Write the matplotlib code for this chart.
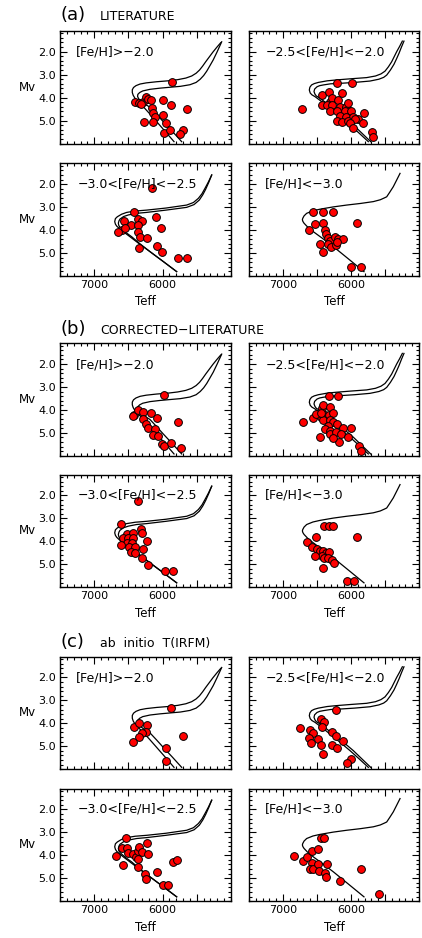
import matplotlib
matplotlib.use("Agg")
import matplotlib.pyplot as plt
from matplotlib.ticker import MultipleLocator, FixedLocator, FixedFormatter

plt.rcParams['font.family'] = ['DejaVu Sans']

# ---- isochrones (Teff, Mv), same in every group ----
iso_hi_a_teff = [5833, 5960, 6087, 6190, 6282, 6350, 6404, 6430, 6443, 6443, 6425, 6389, 6330, 6240, 6087, 5920, 5780,
                 5660, 5575, 5510, 5460, 5415, 5370, 5320, 5265, 5205, 5150]
iso_hi_a_mv = [5.92, 5.48, 5.05, 4.70, 4.40, 4.20, 4.03, 3.90, 3.78, 3.66, 3.56, 3.48, 3.41, 3.36, 3.31, 3.27, 3.22,
               3.15, 3.06, 2.94, 2.80, 2.63, 2.44, 2.24, 2.02, 1.80, 1.61]
iso_hi_b_teff = [5721, 5855, 5990, 6090, 6184, 6260, 6306, 6350, 6366, 6362, 6335, 6290, 6184, 6040, 5892, 5740, 5600,
                 5510, 5450, 5400, 5355, 5310, 5260, 5205, 5136]
iso_hi_b_mv = [5.92, 5.48, 5.05, 4.72, 4.42, 4.28, 4.18, 4.05, 3.95, 3.86, 3.78, 3.71, 3.64, 3.59, 3.55, 3.51, 3.44,
               3.34, 3.20, 3.04, 2.85, 2.62, 2.36, 2.02, 1.57]

iso_m25_a_teff = [5745, 5880, 6015, 6160, 6309, 6420, 6529, 6575, 6600, 6613, 6605, 6580, 6540, 6481, 6350, 6211, 6000,
                  5770, 5640, 5560, 5500, 5450, 5402, 5365, 5328, 5285, 5245]
iso_m25_a_mv = [5.92, 5.55, 5.19, 4.83, 4.47, 4.20, 3.96, 3.88, 3.80, 3.67, 3.55, 3.45, 3.39, 3.34, 3.27, 3.23, 3.18,
                3.13, 3.06, 2.97, 2.85, 2.66, 2.44, 2.22, 2.00, 1.77, 1.54]
iso_m25_b_teff = [5710, 5840, 5966, 6110, 6260, 6370, 6471, 6510, 6530, 6544, 6535, 6500, 6460, 6407, 6300, 6162, 5950,
                  5721, 5590, 5520, 5475, 5420, 5368, 5330, 5294, 5258, 5221]
iso_m25_b_mv = [5.92, 5.55, 5.19, 4.83, 4.47, 4.22, 4.00, 3.93, 3.85, 3.74, 3.63, 3.53, 3.48, 3.45, 3.40, 3.38, 3.34,
                3.28, 3.20, 3.12, 3.02, 2.80, 2.55, 2.31, 2.07, 1.80, 1.54]

iso_m30_a_teff = [5794, 5990, 6184, 6340, 6477, 6570, 6637, 6670, 6690, 6700, 6690, 6662, 6600, 6525, 6400, 6233, 5950,
                  5648, 5550, 5478, 5425, 5380, 5330, 5282]
iso_m30_a_mv = [5.81, 5.37, 4.94, 4.60, 4.29, 4.08, 3.92, 3.83, 3.74, 3.63, 3.50, 3.42, 3.31, 3.23, 3.17, 3.13, 3.04,
                2.91, 2.80, 2.62, 2.42, 2.18, 1.90, 1.60]
iso_m30_b_teff = [5794, 5990, 6184, 6330, 6452, 6540, 6598, 6625, 6640, 6647, 6638, 6623, 6570, 6500, 6380, 6233, 5950,
                  5648, 5540, 5463, 5412, 5370, 5325, 5282]
iso_m30_b_mv = [5.81, 5.37, 4.94, 4.60, 4.29, 4.10, 3.95, 3.87, 3.80, 3.70, 3.60, 3.52, 3.41, 3.34, 3.27, 3.23, 3.13,
                3.01, 2.89, 2.69, 2.46, 2.22, 1.92, 1.60]

iso_lo_teff = [5809, 6040, 6260, 6420, 6554, 6640, 6691, 6708, 6715, 6710, 6690, 6652, 6560, 6456, 6260, 6063, 5860,
               5672, 5570, 5510, 5475, 5430, 5378, 5330, 5279]
iso_lo_mv = [5.81, 5.25, 4.72, 4.36, 4.07, 3.86, 3.70, 3.62, 3.55, 3.49, 3.38, 3.27, 3.16, 3.09, 2.99, 2.91, 2.84,
             2.76, 2.68, 2.60, 2.55, 2.35, 2.11, 1.83, 1.53]

# ---- (a) LITERATURE ----
lit_hi_teff = [5858, 6404, 6341, 6291, 6316, 6247, 6209, 6174, 6160, 6136, 6111, 5990, 5882, 5639, 5990, 6268, 6145, 5950, 5975, 5892, 5706, 5746]
lit_hi_mv = [3.31, 4.18, 4.22, 4.18, 4.30, 3.96, 4.06, 4.10, 4.47, 4.68, 4.83, 4.10, 4.32, 4.50, 4.76, 5.05, 5.05, 5.09, 5.53, 5.41, 5.41, 5.60]

lit_m25_teff = [6725, 6211, 5990, 6422, 6319, 6137, 6422, 6304, 6284, 6186, 6348, 6275, 6162, 6074, 6040, 6309, 6211, 6088, 6000,
                6162, 6074, 5975, 5892, 5809, 6211, 6137, 6040, 5946, 5819, 6015, 5966, 5696, 5681]
lit_m25_mv = [4.51, 3.38, 3.38, 3.89, 3.74, 3.81, 4.32, 4.18, 4.03, 4.10, 4.32, 4.32, 4.40, 4.40, 4.25, 4.60, 4.60, 4.60, 4.60,
              4.79, 4.86, 4.83, 4.93, 4.68, 5.00, 5.07, 5.00, 4.93, 5.10, 5.10, 5.34, 5.48, 5.70]

lit_m30_teff = [6160, 6418, 6101, 6560, 6364, 6297, 6467, 6364, 6023, 6598, 6647, 6550, 6364, 6330, 6233, 6082, 6350, 6013, 5770, 5648]
lit_m30_mv = [2.15, 3.20, 3.42, 3.60, 3.51, 3.60, 3.78, 3.78, 3.90, 4.00, 4.10, 3.92, 4.07, 4.32, 4.36, 4.68, 4.77, 4.97, 5.23, 5.23]

lit_lo_teff = [6554, 6407, 6269, 6618, 6529, 6416, 6382, 6372, 6333, 6309, 6235, 6186, 6113, 6456, 6333, 6294, 6221, 6210, 6416, 5907, 6004, 5857]
lit_lo_mv = [3.20, 3.20, 3.23, 4.00, 3.74, 3.70, 4.00, 4.18, 4.33, 4.46, 4.31, 4.40, 4.39, 4.62, 4.62, 4.75, 4.65, 4.51, 4.96, 3.70, 5.62, 5.62]

# ---- (b) CORRECTED-LITERATURE ----
corr_hi_teff = [5975, 6414, 6440, 6355, 6291, 6174, 6077, 6291, 6247, 6209, 6111, 6145, 6063, 6004, 5980, 5882, 5780, 5731]
corr_hi_mv = [3.35, 4.22, 4.25, 4.00, 4.08, 4.15, 4.37, 4.41, 4.61, 4.80, 4.85, 5.09, 5.14, 5.49, 5.58, 5.46, 4.54, 5.64]

corr_m25_teff = [6701, 6319, 6186, 6554, 6446, 6431, 6416, 6309, 6382, 6323, 6260, 6515, 6407, 6309, 6260, 6201, 6333, 6113,
                 6382, 6309, 6456, 6304, 6225, 6152, 6040, 6000, 6172, 6260, 5878, 5857, 6446]
corr_m25_mv = [4.54, 3.40, 3.40, 4.37, 4.30, 3.93, 3.79, 3.86, 4.22, 4.22, 4.15, 4.18, 4.44, 4.44, 4.51, 4.61, 4.70, 4.80,
               4.85, 4.91, 5.17, 5.05, 4.98, 5.05, 5.17, 4.78, 5.39, 5.24, 5.57, 5.78, 4.15]

corr_m30_teff = [6355, 6608, 6525, 6437, 6574, 6500, 6437, 6525, 6452, 6608, 6486, 6404, 6467, 6404, 6320, 6306, 6233, 6291, 6306, 6209, 5965, 5843]
corr_m30_mv = [2.23, 3.23, 3.68, 3.63, 3.84, 3.87, 3.87, 4.06, 4.09, 4.16, 4.26, 4.26, 4.45, 4.50, 3.48, 3.65, 3.97, 4.35, 4.74, 5.03, 5.29, 5.29]

corr_lo_teff = [6397, 6319, 6269, 5907, 6515, 6643, 6578, 6505, 6456, 6407, 6368, 6319, 6431, 6529, 6397, 6338, 6284, 6245, 6407, 6063, 5956]
corr_lo_mv = [3.32, 3.32, 3.32, 3.80, 3.80, 4.04, 4.24, 4.35, 4.41, 4.41, 4.50, 4.45, 4.64, 4.63, 4.74, 4.74, 4.82, 4.93, 5.15, 5.72, 5.72]

# ---- (c) ab initio T(IRFM) ----
irfm_hi_teff = [5882, 6414, 6341, 6224, 6243, 6306, 6341, 6428, 5950, 5706, 5955]
irfm_hi_mv = [3.32, 4.17, 3.97, 4.07, 4.37, 4.44, 4.58, 4.80, 5.09, 4.54, 5.63]

irfm_m25_teff = [6750, 6603, 6564, 6441, 6397, 6431, 6613, 6481, 6593, 6446, 6407, 6284, 6221, 6284, 6210, 6113, 6221, 6004, 6063]
irfm_m25_mv = [4.22, 4.29, 4.44, 3.83, 3.93, 4.15, 4.65, 4.68, 4.85, 4.95, 5.35, 4.39, 4.55, 4.95, 5.09, 4.76, 3.42, 5.56, 5.74]

irfm_m30_teff = [6535, 6681, 6598, 6525, 6574, 6500, 6437, 6389, 6355, 6341, 6306, 6355, 6355, 6233, 6218, 6257, 6243, 6077, 5990, 5926, 5853, 5794]
irfm_m30_mv = [3.23, 4.02, 3.67, 3.67, 4.42, 3.89, 3.94, 4.06, 3.80, 3.63, 3.84, 4.17, 4.50, 3.48, 3.94, 4.82, 5.03, 4.72, 5.29, 5.29, 4.31, 4.20]

irfm_lo_teff = [6838, 6701, 6652, 6578, 6481, 6446, 6397, 6578, 6603, 6554, 6481, 6466, 6382, 6368, 6348, 6162, 5857, 5583]
irfm_lo_mv = [4.02, 4.24, 4.09, 3.81, 3.74, 3.26, 3.26, 4.35, 4.61, 4.61, 4.38, 4.68, 4.78, 4.96, 4.38, 5.12, 4.60, 5.69]

panel_labels = ["[Fe/H]>\u22122.0", "\u22122.5<[Fe/H]<\u22122.0", "\u22123.0<[Fe/H]<\u22122.5", "[Fe/H]<\u22123.0"]
group_tags = ["(a)", "(b)", "(c)"]
group_titles = ["LITERATURE", "CORRECTED\u2212LITERATURE", "ab  initio  T(IRFM)"]
xtick_vals = [7000, 6500, 6000, 5500]
xtick_text = ["7000", "", "6000", ""]
ytick_vals = [2.0, 3.0, 4.0, 5.0]
ytick_text = ["2.0", "3.0", "4.0", "5.0"]

isochrones = [
    [(iso_hi_a_teff, iso_hi_a_mv), (iso_hi_b_teff, iso_hi_b_mv)],
    [(iso_m25_a_teff, iso_m25_a_mv), (iso_m25_b_teff, iso_m25_b_mv)],
    [(iso_m30_a_teff, iso_m30_a_mv), (iso_m30_b_teff, iso_m30_b_mv)],
    [(iso_lo_teff, iso_lo_mv)],
]
stars = [
    [(lit_hi_teff, lit_hi_mv), (lit_m25_teff, lit_m25_mv), (lit_m30_teff, lit_m30_mv), (lit_lo_teff, lit_lo_mv)],
    [(corr_hi_teff, corr_hi_mv), (corr_m25_teff, corr_m25_mv), (corr_m30_teff, corr_m30_mv), (corr_lo_teff, corr_lo_mv)],
    [(irfm_hi_teff, irfm_hi_mv), (irfm_m25_teff, irfm_m25_mv), (irfm_m30_teff, irfm_m30_mv), (irfm_lo_teff, irfm_lo_mv)],
]

W, H = 422, 938
fig = plt.figure(figsize=(W / 100, H / 100), dpi=100)

col_x = [60, 249]
col_w = [171, 170]
row_top = [31, 163.5, 343.3, 474.7, 656.7, 788.7]
row_h = 112.5
label_pos = [(0.09, 0.81), (0.10, 0.81), (0.105, 0.82), (0.095, 0.82)]
header_y = [15, 329, 642]

for g in range(3):
    fig.text(60 / W, 1 - header_y[g] / H, group_tags[g], fontsize=13, ha="left", va="center")
    fig.text(100 / W, 1 - (header_y[g] + 2) / H, group_titles[g], fontsize=9, ha="left", va="center")
    for k in range(4):
        r = 2 * g + k // 2
        c = k % 2
        ax = fig.add_axes([col_x[c] / W, 1 - (row_top[r] + row_h) / H, col_w[c] / W, row_h / H])

        for t, m in isochrones[k]:
            ax.plot(t, m, color="black", lw=0.9, solid_joinstyle="round")
        t, m = stars[g][k]
        ax.plot(t, m, "o", ms=5.6, mfc="#ff0000", mec="black", mew=0.7, ls="none")

        ax.set_xlim(7500, 5000)
        ax.set_ylim(6.0, 1.1)
        ax.xaxis.set_major_locator(FixedLocator(xtick_vals))
        ax.xaxis.set_major_formatter(FixedFormatter(xtick_text))
        ax.xaxis.set_minor_locator(MultipleLocator(100))
        ax.yaxis.set_major_locator(FixedLocator(ytick_vals))
        ax.yaxis.set_major_formatter(FixedFormatter(ytick_text))
        ax.yaxis.set_minor_locator(MultipleLocator(0.2))
        ax.tick_params(which="both", direction="in", top=True, right=True, labelsize=8, width=0.8, pad=3)
        ax.tick_params(which="major", length=5)
        ax.tick_params(which="minor", length=2.5)
        for s in ax.spines.values():
            s.set_linewidth(1.0)

        if k // 2 == 0:
            ax.tick_params(labelbottom=False)
        else:
            ax.set_xlabel("Teff", fontsize=8.5, va="center")
            ax.xaxis.set_label_coords(0.5, -0.23)
        if c == 1:
            ax.tick_params(labelleft=False)
        else:
            ax.set_ylabel("Mv", fontsize=8.5, rotation=0, va="center", ha="center")
            ax.yaxis.set_label_coords(-0.19, 0.5)

        lx, ly = label_pos[k]
        ax.text(lx, ly, panel_labels[k], transform=ax.transAxes, fontsize=9, ha="left", va="center")

fig.savefig("out.png", dpi=100)
